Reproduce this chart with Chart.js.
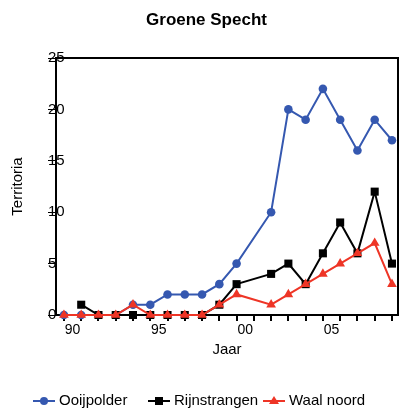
<!DOCTYPE html>
<html>
<head>
<meta charset="utf-8">
<script src="https://cdn.jsdelivr.net/npm/chart.js@4/dist/chart.umd.min.js"></script>
<style>
    html, body { margin: 0; padding: 0; background: #fff; }
    canvas { display: block; }
</style>
</head>
<body>
<canvas id="simple_chart" width="400" height="408"></canvas>
<script>
var years = [1990, 1991, 1992, 1993, 1994, 1995, 1996, 1997, 1998, 1999,
             2000, 2001, 2002, 2003, 2004, 2005, 2006, 2007, 2008, 2009];
var label_years = [1990, 1995, 2000, 2005];
var ooijpolder = [0, 0, 0, 0, 1, 1, 2, 2, 2, 3, 5, null, 10, 20, 19, 22, 19, 16, 19, 17];
var rijnstrangen = [null, 1, 0, 0, 0, 0, 0, 0, 0, 1, 3, null, 4, 5, 3, 6, 9, 6, 12, 5];
var waal_noord = [0, 0, 0, 0, 1, 0, 0, 0, 0, 1, 2, null, 1, 2, 3, 4, 5, 6, 7, 3];

var FONT = '"Liberation Sans", Arial, sans-serif';

function to_points(values) {
    return years.map(function(yr, i) { return { x: yr, y: values[i] }; });
}

function make_dataset(label, values, color, style, radius, order) {
    return {
        label: label,
        data: to_points(values),
        borderColor: color,
        backgroundColor: color,
        borderWidth: 2,
        pointStyle: style,
        pointRadius: radius,
        pointBorderWidth: 0,
        pointBackgroundColor: color,
        tension: 0,
        spanGaps: true,
        clip: false,
        order: order
    };
}

// draws top and right side of the plot box
var box_plugin = {
    id: 'plot_box',
    beforeDatasetsDraw: function(chart) {
        var a = chart.chartArea;
        var ctx = chart.ctx;
        ctx.save();
        ctx.strokeStyle = '#000';
        ctx.lineWidth = 2;
        ctx.beginPath();
        ctx.moveTo(a.left, a.top);
        ctx.lineTo(a.right, a.top);
        ctx.lineTo(a.right, a.bottom);
        ctx.stroke();
        ctx.restore();
    }
};

// legend with line + marker samples in fixed columns
var legend_plugin = {
    id: 'line_legend',
    afterDraw: function(chart) {
        var ctx = chart.ctx;
        ctx.save();
        chart.data.datasets.forEach(function(ds, i) {
            var x0 = 33 + i * 115;
            var y = 401;
            ctx.strokeStyle = ds.borderColor;
            ctx.lineWidth = 2;
            ctx.beginPath();
            ctx.moveTo(x0, y);
            ctx.lineTo(x0 + 22, y);
            ctx.stroke();
            ctx.fillStyle = ds.borderColor;
            var cx = x0 + 11;
            ctx.beginPath();
            if (ds.pointStyle == 'circle') {
                ctx.arc(cx, y, 4, 0, Math.PI * 2);
            } else if (ds.pointStyle == 'rect') {
                ctx.rect(cx - 4, y - 4, 8, 8);
            } else {
                ctx.moveTo(cx, y - 5);
                ctx.lineTo(cx + 5, y + 3);
                ctx.lineTo(cx - 5, y + 3);
                ctx.closePath();
            }
            ctx.fill();
            ctx.fillStyle = '#000';
            ctx.font = '15px ' + FONT;
            ctx.textBaseline = 'middle';
            ctx.textAlign = 'left';
            ctx.fillText(ds.label, x0 + 26, y);
        });
        ctx.restore();
    }
};

window.onload = function(event) {
    const ctx = document.getElementById('simple_chart').getContext('2d');
    const chart = new Chart(ctx, {
        type: 'line',
        data: {
            datasets: [
                make_dataset('Ooijpolder', ooijpolder, '#3558b0', 'circle', 4.3, 3),
                make_dataset('Rijnstrangen', rijnstrangen, '#000000', 'rect', 5.7, 2),
                make_dataset('Waal noord', waal_noord, '#ee3526', 'triangle', 5.6, 1)
            ]
        },
        options: {
            responsive: false,
            animation: false,
            layout: {
                autoPadding: false,
                padding: { left: 15, right: 2, top: 0, bottom: 46.2 }
            },
            scales: {
                x: {
                    type: 'linear',
                    min: 1989.54,
                    max: 2009.35,
                    afterBuildTicks: function(scale) {
                        scale.ticks = years.map(function(v) { return { value: v }; });
                    },
                    // no extra room for the end labels
                    afterFit: function(scale) {
                        scale.paddingLeft = 0;
                        scale.paddingRight = 0;
                    },
                    ticks: {
                        autoSkip: false,
                        maxRotation: 0,
                        labelOffset: 8.6,
                        padding: 1,
                        color: '#000',
                        font: { family: FONT, size: 14 },
                        // only every fifth year gets a label
                        callback: function(value) {
                            if (label_years.indexOf(value) >= 0) {
                                return String(value).slice(2);
                            }
                            return '';
                        }
                    },
                    grid: {
                        drawOnChartArea: false,
                        tickLength: 6,
                        color: '#000',
                        lineWidth: 2
                    },
                    border: { color: '#000', width: 2 },
                    title: {
                        display: true,
                        text: 'Jaar',
                        color: '#000',
                        font: { family: FONT, size: 15 },
                        padding: { top: 1, bottom: 3 }
                    }
                },
                y: {
                    min: 0,
                    max: 25,
                    ticks: {
                        stepSize: 5,
                        mirror: true,
                        padding: -8,
                        color: '#000',
                        font: { family: FONT, size: 15 }
                    },
                    grid: {
                        drawOnChartArea: false,
                        tickLength: 8,
                        color: '#000',
                        lineWidth: 1
                    },
                    border: { color: '#000', width: 2 },
                    title: {
                        display: true,
                        text: 'Territoria',
                        color: '#000',
                        font: { family: FONT, size: 15 },
                        padding: { top: -6, bottom: 0 }
                    },
                    afterFit: function(scale) {
                        scale.width = 41;
                    }
                }
            },
            plugins: {
                legend: { display: false },
                tooltip: { enabled: false },
                title: {
                    display: true,
                    text: 'Groene Specht',
                    color: '#000',
                    font: { family: FONT, size: 17, weight: 'bold' },
                    padding: { top: 10, bottom: 27.6 }
                }
            }
        },
        plugins: [box_plugin, legend_plugin]
    });
};
</script>
</body>
</html>
